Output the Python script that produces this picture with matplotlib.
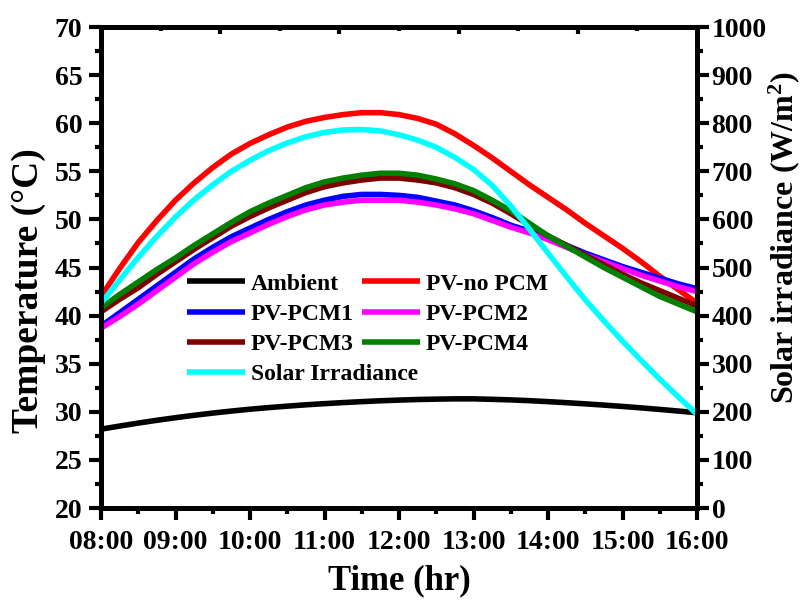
import matplotlib
matplotlib.use('Agg')
import matplotlib.pyplot as plt
from matplotlib.ticker import MultipleLocator, FixedLocator, FuncFormatter

plt.rcParams['font.family'] = ['Liberation Serif', 'DejaVu Serif']
plt.rcParams['font.weight'] = 'bold'
plt.rcParams['axes.labelweight'] = 'bold'
plt.rcParams['mathtext.fontset'] = 'custom'
plt.rcParams['mathtext.rm'] = 'Liberation Serif:bold'
plt.rcParams['mathtext.default'] = 'rm'

# =============================================================================
# Data (every 15 min)
# =============================================================================
hours = [8.0, 8.25, 8.5, 8.75, 9.0, 9.25, 9.5, 9.75, 10.0, 10.25, 10.5, 10.75,
         11.0, 11.25, 11.5, 11.75, 12.0, 12.25, 12.5, 12.75, 13.0, 13.25, 13.5,
         13.75, 14.0, 14.25, 14.5, 14.75, 15.0, 15.25, 15.5, 15.75, 16.0]

ambient = [28.2, 28.52, 28.83, 29.12, 29.39, 29.64, 29.87, 30.08, 30.27, 30.44, 30.59, 30.73,
           30.85, 30.96, 31.06, 31.15, 31.22, 31.28, 31.32, 31.35, 31.35, 31.3, 31.24,
           31.16, 31.06, 30.95, 30.83, 30.7, 30.56, 30.41, 30.25, 30.08, 29.9]
pv_no_pcm = [42.0, 44.9, 47.6, 49.9, 52.0, 53.8, 55.4, 56.8, 57.9, 58.8, 59.6, 60.2,
             60.6, 60.9, 61.1, 61.1, 60.9, 60.5, 59.9, 58.9, 57.7, 56.4, 55.0,
             53.6, 52.3, 51.0, 49.6, 48.3, 47.0, 45.6, 44.1, 42.7, 41.3]
pv_pcm1 = [38.9, 40.3, 41.7, 43.1, 44.5, 45.9, 47.1, 48.2, 49.1, 50.0, 50.8, 51.5,
           52.0, 52.4, 52.6, 52.6, 52.5, 52.3, 51.9, 51.5, 50.9, 50.2, 49.4,
           48.8, 48.1, 47.3, 46.5, 45.8, 45.1, 44.5, 43.9, 43.3, 42.8]
pv_pcm2 = [38.7, 39.9, 41.2, 42.6, 44.0, 45.4, 46.6, 47.7, 48.6, 49.5, 50.3, 51.0,
           51.5, 51.8, 52.0, 52.0, 52.0, 51.8, 51.5, 51.1, 50.6, 49.9, 49.2,
           48.6, 47.9, 47.1, 46.3, 45.6, 44.9, 44.2, 43.6, 43.0, 42.5]
pv_pcm3 = [40.4, 41.7, 42.9, 44.3, 45.6, 46.9, 48.1, 49.3, 50.3, 51.2, 52.0, 52.8,
           53.4, 53.8, 54.1, 54.3, 54.3, 54.1, 53.8, 53.3, 52.6, 51.7, 50.6,
           49.4, 48.3, 47.3, 46.3, 45.3, 44.3, 43.4, 42.6, 41.8, 41.0]
pv_pcm4 = [40.8, 42.2, 43.5, 44.8, 46.0, 47.3, 48.5, 49.7, 50.8, 51.7, 52.5, 53.3,
           53.9, 54.3, 54.6, 54.8, 54.8, 54.6, 54.2, 53.7, 53.0, 52.0, 50.9,
           49.6, 48.3, 47.2, 46.1, 45.0, 44.0, 43.0, 42.0, 41.2, 40.4]
irradiance = [426, 474, 521, 565, 605, 641, 672, 700, 723, 743, 759, 772,
              781, 786, 787, 784, 776, 765, 750, 729, 704, 671, 628,
              580, 530, 481, 433, 389, 347, 307, 268, 231, 195]

temp_series = [
    ('Ambient', ambient, 'black'),
    ('PV-no PCM', pv_no_pcm, '#ff0000'),
    ('PV-PCM1', pv_pcm1, '#0000ff'),
    ('PV-PCM2', pv_pcm2, '#ff00ff'),
    ('PV-PCM3', pv_pcm3, '#800000'),
    ('PV-PCM4', pv_pcm4, '#008000'),
]

# =============================================================================
# Plot
# =============================================================================
fig = plt.figure(figsize=(8.03, 6.01), dpi=100)
ax = fig.add_axes([0.1258, 0.1547, 0.7422, 0.8003])

lines = {}
for name, vals, col in temp_series:
    lines[name], = ax.plot(hours, vals, color=col, linewidth=4, label=name,
                           solid_capstyle='butt', solid_joinstyle='round')

ax2 = ax.twinx()
lines['Solar Irradiance'], = ax2.plot(hours, irradiance, color='#00ffff',
                                      linewidth=4, label='Solar Irradiance',
                                      solid_capstyle='butt', solid_joinstyle='round')

ax.set_xlim(8, 16)
ax.set_ylim(20, 70)
ax2.set_ylim(0, 1000)

ax.xaxis.set_major_locator(MultipleLocator(1))
ax.xaxis.set_minor_locator(MultipleLocator(0.5))
ax.xaxis.set_major_formatter(FuncFormatter(lambda v, p: f'{int(round(v)):02d}:00'))
ax.yaxis.set_major_locator(MultipleLocator(5))
ax.yaxis.set_minor_locator(MultipleLocator(2.5))
ax2.yaxis.set_major_locator(MultipleLocator(100))
ax2.yaxis.set_minor_locator(MultipleLocator(50))

for a in (ax, ax2):
    for s in a.spines.values():
        s.set_linewidth(3.5)
    a.tick_params(which='major', length=8.5, width=3, labelsize=20)
    a.tick_params(which='minor', length=4.5, width=3)

ax.tick_params(which='both', top=False, right=False, direction='out')
ax.tick_params(axis='y', which='major', pad=5)
ax.tick_params(axis='x', which='major', pad=7)
ax2.tick_params(which='both', direction='out')
ax2.tick_params(axis='y', which='major', pad=2)

# inward ticks on the top spine (Origin layer axis)
ax3 = ax.twiny()
ax3.set_xlim(0, 1)
ax3.xaxis.set_major_locator(FixedLocator([0.2, 0.4, 0.6, 0.8]))
ax3.xaxis.set_minor_locator(FixedLocator([0.1, 0.3, 0.5, 0.7, 0.9]))
ax3.tick_params(which='major', direction='in', length=5, width=3, labeltop=False)
ax3.tick_params(which='minor', direction='in', length=3, width=3)
for s in ax3.spines.values():
    s.set_linewidth(3.5)

ax.set_xlabel('Time (hr)', fontsize=25)
ax.set_ylabel('Temperature (°C)', fontsize=27)
ax2.set_ylabel('Solar irradiance (W/m$^{2}$)', fontsize=23)
ax.xaxis.set_label_coords(0.5, -0.118)
ax.yaxis.set_label_coords(-0.092, 0.453)
ax2.yaxis.set_label_coords(1.116, 0.563)

# legend in two separate columns, as in the original
col1 = ['Ambient', 'PV-PCM1', 'PV-PCM3', 'Solar Irradiance']
col2 = ['PV-no PCM', 'PV-PCM2', 'PV-PCM4']
leg_kw = dict(frameon=False, fontsize=17, handlelength=2.45, handletextpad=0.25,
              labelspacing=0.37, borderpad=0, borderaxespad=0, loc='upper left')
leg1 = ax2.legend([lines[n] for n in col1], col1,
                  bbox_to_anchor=(187 / 803, 1 - 273 / 601),
                  bbox_transform=fig.transFigure, **leg_kw)
ax2.add_artist(leg1)
ax2.legend([lines[n] for n in col2], col2,
           bbox_to_anchor=(362 / 803, 1 - 273 / 601),
           bbox_transform=fig.transFigure, **leg_kw)

fig.savefig('out.png', dpi=100)
